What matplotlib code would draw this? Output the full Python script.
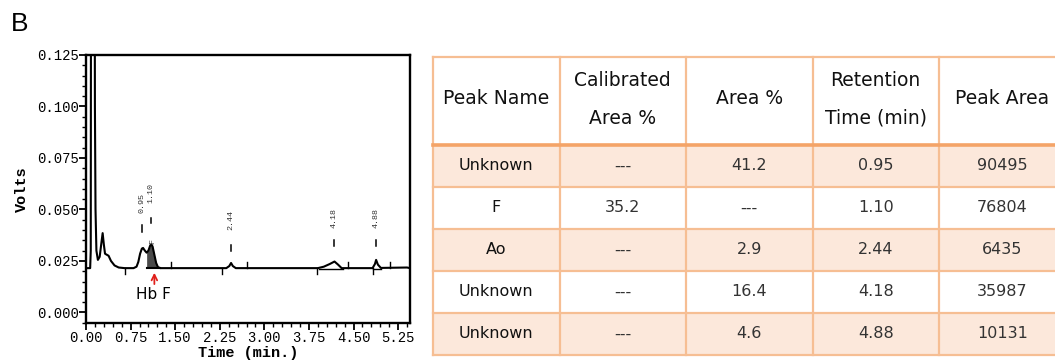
import matplotlib
matplotlib.use("Agg")
import matplotlib.pyplot as plt
from matplotlib.patches import Rectangle
from matplotlib.ticker import MultipleLocator, FormatStrFormatter

# ---- detector trace: time (min) vs signal (V) ----
TRACE_T = [0.00, 0.07, 0.08, 0.085, 0.115, 0.145, 0.15, 0.16, 0.175, 0.20,
           0.23, 0.26, 0.28, 0.30, 0.32, 0.35, 0.38, 0.42, 0.48, 0.55,
           0.65, 0.80, 0.85, 0.88, 0.91, 0.94, 0.96, 0.99, 1.02, 1.05,
           1.08, 1.10, 1.12, 1.15, 1.18, 1.21, 1.25, 2.36, 2.41, 2.44,
           2.47, 2.52, 3.90, 4.00, 4.10, 4.18, 4.24, 4.30, 4.82, 4.86,
           4.88, 4.91, 4.96, 5.40, 5.45]
TRACE_V = [0.0215, 0.0215, 0.0300, 0.2000, 0.3000, 0.2000, 0.1000, 0.0500, 0.0300, 0.0255,
           0.0270, 0.0340, 0.0385, 0.0330, 0.0285, 0.0280, 0.0275, 0.0250, 0.0228, 0.0218,
           0.0215, 0.0215, 0.0222, 0.0245, 0.0285, 0.0310, 0.0313, 0.0300, 0.0290, 0.0300,
           0.0325, 0.0330, 0.0320, 0.0280, 0.0240, 0.0220, 0.0215, 0.0215, 0.0225, 0.0240,
           0.0225, 0.0215, 0.0215, 0.0222, 0.0235, 0.0247, 0.0232, 0.0215, 0.0215, 0.0235,
           0.0255, 0.0232, 0.0216, 0.0218, 0.0215]
BASELINE_V = 0.0215

# integration marks on the baseline
MARKS_DOWN = [0.66, 2.29, 3.89, 4.83]
MARKS_UP = [1.43, 2.71, 4.41, 5.11]

# ---- peak table ----
HEADERS = ["Peak Name", "Calibrated\nArea %", "Area %", "Retention\nTime (min)", "Peak Area"]
PEAK_NAMES = ["Unknown", "F", "Ao", "Unknown", "Unknown"]
CAL_AREA = ["---", "35.2", "---", "---", "---"]
AREA_PCT = ["41.2", "---", "2.9", "16.4", "4.6"]
RET_TIME = [0.95, 1.10, 2.44, 4.18, 4.88]
PEAK_AREA = [90495, 76804, 6435, 35987, 10131]

# peak tag placement above the trace (dash bottom, dash top, label bottom) in V
TAG_POS = [(0.0390, 0.0424, 0.0482), (0.0434, 0.0458, 0.0530),
           (0.0298, 0.0328, 0.0400), (0.0323, 0.0352, 0.0410),
           (0.0323, 0.0352, 0.0410)]

MONO = "Liberation Mono"
INK = "black"
LINE_ORANGE = "#F6BE93"
HEAD_ORANGE = "#F4A468"
ROW_FILL = "#FCE8DB"

W, H = 1055, 362
fig = plt.figure(figsize=(W / 100, H / 100), dpi=100)
fig.patch.set_facecolor("white")

# ---- chromatogram ----
ax = fig.add_axes([86 / W, 1 - 322.7 / H, 324 / W, 267.7 / H])
ax.plot(TRACE_T, TRACE_V, color=INK, lw=1.5, solid_joinstyle="round")
t_fill = [t for t in TRACE_T if 1.02 <= t <= 1.25]
v_fill = [v for t, v in zip(TRACE_T, TRACE_V) if 1.02 <= t <= 1.25]
ax.fill_between(t_fill, BASELINE_V, v_fill, color="#4a4a4a", lw=0)
ax.plot([1.02, 1.25], [BASELINE_V, BASELINE_V], color=INK, lw=1.5)
for a, b in [(3.92, 4.33), (4.82, 4.97)]:
    ax.plot([a, b], [BASELINE_V - 0.0003, BASELINE_V - 0.0003], color=INK, lw=1.0)
for t in MARKS_DOWN:
    ax.plot([t, t], [BASELINE_V, BASELINE_V - 0.0028], color=INK, lw=1.0)
for t in MARKS_UP:
    ax.plot([t, t], [BASELINE_V, BASELINE_V + 0.0028], color=INK, lw=1.0)

for rt, (d0, d1, lb) in zip(RET_TIME, TAG_POS):
    ax.plot([rt, rt], [d0, d1], color=INK, lw=1.1)
    ax.text(rt, lb, "%.2f" % rt, rotation=90, ha="center", va="bottom",
            family=MONO, fontsize=6, color="#333333")
ax.text(1.13, 0.0345, "F", rotation=90, ha="center", va="center",
        family=MONO, fontsize=6, color="#333333")

ax.set_xlim(0, 5.45)
ax.set_ylim(-0.005, 0.125)
ax.xaxis.set_major_locator(MultipleLocator(0.75))
ax.xaxis.set_minor_locator(MultipleLocator(0.15))
ax.yaxis.set_major_locator(MultipleLocator(0.025))
ax.yaxis.set_minor_locator(MultipleLocator(0.005))
ax.xaxis.set_major_formatter(FormatStrFormatter("%.2f"))
ax.yaxis.set_major_formatter(FormatStrFormatter("%.3f"))
ax.tick_params(which="major", direction="out", length=5, width=1.3,
               labelsize=10, pad=1)
ax.tick_params(axis="y", which="major", pad=0)
ax.tick_params(which="minor", direction="out", length=3, width=1.0)
for lab in ax.get_xticklabels() + ax.get_yticklabels():
    lab.set_family(MONO)
for s in ax.spines.values():
    s.set_linewidth(1.7)
ax.set_ylabel("Volts", family=MONO, fontweight="bold", fontsize=11, labelpad=6)
ax.set_xlabel("Time (min.)", family=MONO, fontweight="bold", fontsize=11, labelpad=1)

ax.annotate("", xy=(1.15, 0.0206), xytext=(1.15, 0.0124),
            arrowprops=dict(arrowstyle="->", color="#e0201b", lw=1.3),
            annotation_clip=False)
ax.text(1.14, 0.0085, "Hb F", ha="center", va="center", fontsize=11,
        family="DejaVu Sans")

# ---- overlay in pixel coordinates for the panel letter and the table ----
ov = fig.add_axes([0, 0, 1, 1], zorder=-1)
ov.set_xlim(0, W)
ov.set_ylim(H, 0)
ov.axis("off")
ov.text(11, 24, "B", fontsize=19, family="Liberation Sans", va="center", ha="left")

x0, col_w = 433, 126.5
y_top, y_head, row_h = 57, 145, 42
n_rows = len(PEAK_NAMES)
columns = [PEAK_NAMES, CAL_AREA, AREA_PCT, ["%.2f" % v for v in RET_TIME],
           [str(v) for v in PEAK_AREA]]
y_bot = y_head + n_rows * row_h
x_end = x0 + col_w * len(HEADERS)

for r in range(n_rows):
    if r % 2 == 0:
        ov.add_patch(Rectangle((x0, y_head + r * row_h), x_end - x0, row_h,
                               facecolor=ROW_FILL, edgecolor="none"))
for c in range(len(HEADERS) + 1):
    xc = x0 + c * col_w
    ov.plot([xc, xc], [y_top, y_bot], color=LINE_ORANGE, lw=1.6)
ov.plot([x0, x_end], [y_top, y_top], color=LINE_ORANGE, lw=1.6)
for r in range(1, n_rows + 1):
    yr = y_head + r * row_h
    ov.plot([x0, x_end], [yr, yr], color=LINE_ORANGE, lw=1.6)
ov.plot([x0, x_end], [y_head, y_head], color=HEAD_ORANGE, lw=2.6)

for c, head in enumerate(HEADERS):
    xc = x0 + (c + 0.5) * col_w
    lines = head.split("\n")
    if len(lines) == 1:
        ov.text(xc, 98.5, lines[0], ha="center", va="center", fontsize=13.5,
                family="DejaVu Sans", color="#111111")
    else:
        for i, ln in enumerate(lines):
            ov.text(xc, 80 + i * 38, ln, ha="center", va="center", fontsize=13.5,
                    family="DejaVu Sans", color="#111111")
    for r, val in enumerate(columns[c]):
        yc = y_head + (r + 0.5) * row_h
        color = "#111111" if c == 0 else "#333333"
        ov.text(xc, yc, val, ha="center", va="center", fontsize=11.5,
                family="DejaVu Sans", color=color)

fig.savefig("out.png", dpi=100, facecolor="white")
